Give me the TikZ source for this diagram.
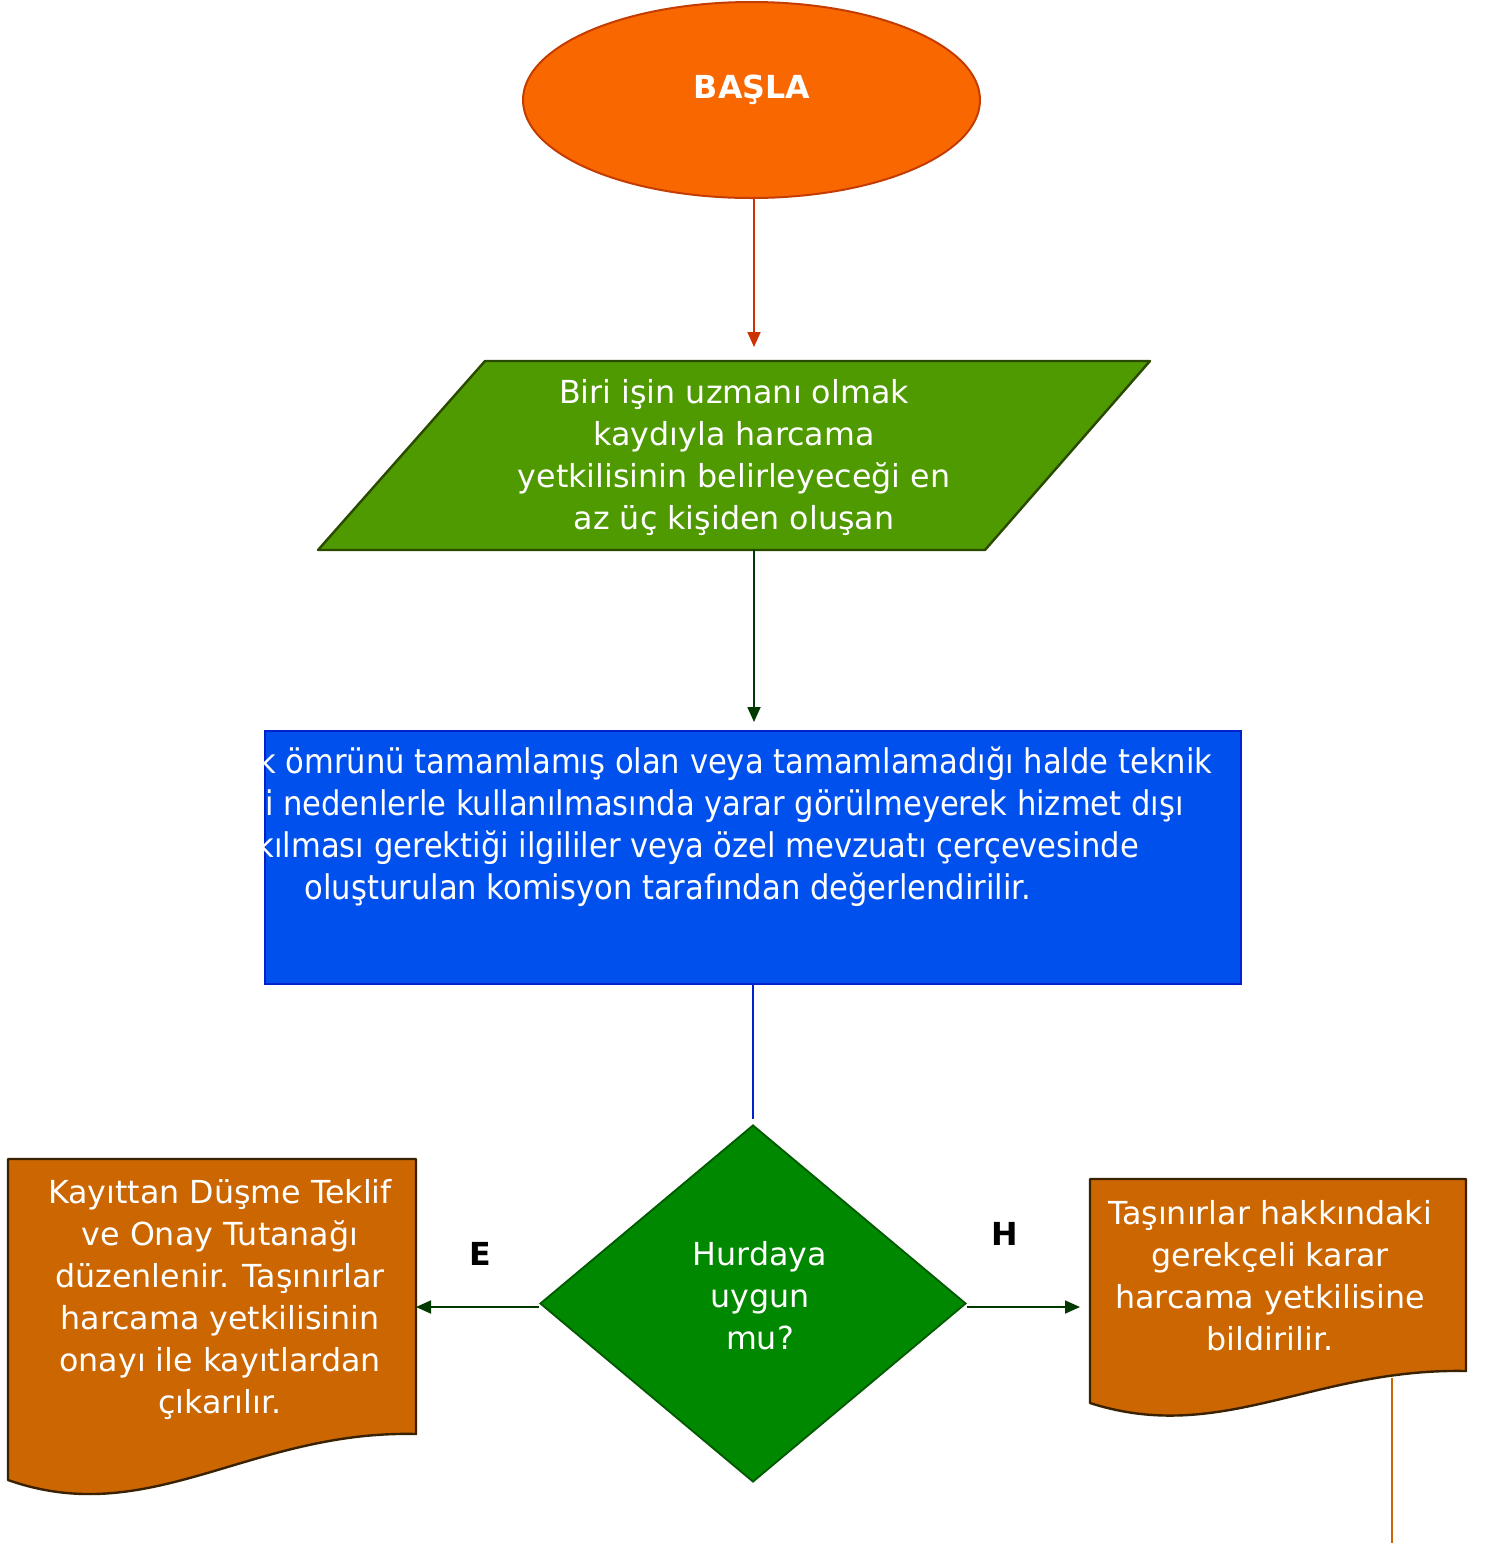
\documentclass[tikz,border=0pt]{standalone}
\usepackage{fontspec}
\setmainfont{DejaVu Sans}
\newfontfamily\condfont{DejaVu Sans Condensed}
\usetikzlibrary{shapes.geometric,arrows.meta}
\definecolor{startfill}{HTML}{F96800}
\definecolor{startdraw}{HTML}{C43C00}
\definecolor{arrred}{HTML}{CC3300}
\definecolor{parafill}{HTML}{4E9A00}
\definecolor{paradraw}{HTML}{2A4A00}
\definecolor{darkgreen}{HTML}{003A00}
\definecolor{bluefill}{HTML}{0050EE}
\definecolor{bluedraw}{HTML}{0022CC}
\definecolor{diafill}{HTML}{008800}
\definecolor{diadraw}{HTML}{005A00}
\definecolor{docfill}{HTML}{CC6600}
\definecolor{docdraw}{HTML}{3A2200}
\tikzset{
  txt/.style={text=white, align=center, inner sep=0pt, font=\fontsize{31.7}{42}\selectfont},
  boldtxt/.style={inner sep=0pt, font=\fontsize{31.7}{42}\selectfont\bfseries},
  bluetxt/.style={text=white, inner sep=0pt, font=\condfont\fontsize{34}{42}\selectfont},
  arrowline/.style={line width=1.8pt, -{Triangle[length=15pt,width=13pt]}},
  docshape/.style={fill=docfill, draw=docdraw, line width=2.4pt, line join=round}
}
\begin{document}
\begin{tikzpicture}[x=1pt,y=-1pt]
\useasboundingbox (0,0) rectangle (1495,1543);

% start ellipse
\node[ellipse, fill=startfill, draw=startdraw, line width=2pt,
      minimum width=457pt, minimum height=196pt, inner sep=0pt] (start) at (751.5,100) {};
\node[boldtxt, text=white] (startlabel) at (752,90) {BAŞLA};

% parallelogram
\draw[fill=parafill, draw=paradraw, line width=2.4pt, line join=round]
  (318,550) -- (485,361) -- (1150,361) -- (985,550) -- cycle;
\coordinate (paratop) at (754,361);
\coordinate (parabot) at (754,550);
\node[txt] (paratext) at (734,458)
  {Biri işin uzmanı olmak\\kaydıyla harcama\\yetkilisinin belirleyeceği en\\az üç kişiden oluşan};

% blue box
\node[rectangle, fill=bluefill, draw=bluedraw, line width=2pt,
      minimum width=976pt, minimum height=253pt, inner sep=0pt] (blue) at (753,857.5) {};
\begin{scope}
  \clip (blue.south west) rectangle (blue.north east);
  \node[bluetxt, anchor=east] (bl1) at (1213,764) {k ömrünü tamamlamış olan veya tamamlamadığı halde teknik};
  \node[bluetxt, anchor=east] (bl2) at (1184,806) {i nedenlerle kullanılmasında yarar görülmeyerek hizmet dışı};
  \node[bluetxt, anchor=east] (bl3) at (1139,848) {kılması gerektiği ilgililer veya özel mevzuatı çerçevesinde};
  \node[bluetxt] (bl4) at (668,890) {oluşturulan komisyon tarafından değerlendirilir.};
\end{scope}

% decision diamond
\node[diamond, fill=diafill, draw=diadraw, line width=1.8pt,
      minimum width=426pt, minimum height=357pt, inner sep=0pt] (dia) at (753,1303.5) {};
\node[txt] (diatext) at (760,1296) {Hurdaya\\uygun\\mu?};

% left document
\draw[docshape] (8,1159) -- (416,1159) -- (416,1434)
  .. controls (250,1430) and (150,1530) .. (8,1480) -- cycle;
\coordinate (ldocright) at (416,1307);
\node[txt] (ldoctext) at (220,1299)
  {Kayıttan Düşme Teklif\\ve Onay Tutanağı\\düzenlenir. Taşınırlar\\harcama yetkilisinin\\onayı ile kayıtlardan\\çıkarılır.};

% right document
\draw[docshape] (1090,1179) -- (1466,1179) -- (1466,1371)
  .. controls (1313,1368) and (1221,1445) .. (1090,1403) -- cycle;
\coordinate (rdocleft) at (1090,1307);
\node[txt] (rdoctext) at (1270,1276)
  {Taşınırlar hakkındaki\\gerekçeli karar\\harcama yetkilisine\\bildirilir.};
\coordinate (rdocout) at (1392,1378);
\coordinate (rdocend) at (1392,1543);

% connectors
\draw[arrowline, draw=arrred, fill=arrred, shorten >=14pt] (start.south -| paratop) -- (paratop);
\coordinate (bluetop) at (754,731);
\draw[arrowline, draw=darkgreen, fill=darkgreen, shorten >=9pt] (parabot) -- (bluetop);
\draw[draw=bluedraw, line width=2pt] (blue.south -| dia.north) -- ([yshift=5pt]dia.north);
\draw[arrowline, draw=darkgreen, fill=darkgreen] (dia.west |- ldocright) -- (ldocright);
\draw[arrowline, draw=darkgreen, fill=darkgreen, shorten >=10pt] (dia.east |- rdocleft) -- (rdocleft);
\draw[draw=docfill, line width=2.2pt] (rdocout) -- (rdocend);

% labels
\node[boldtxt] (elabel) at (480,1254) {E};
\node[boldtxt] (hlabel) at (1005,1234) {H};
\end{tikzpicture}
\end{document}
